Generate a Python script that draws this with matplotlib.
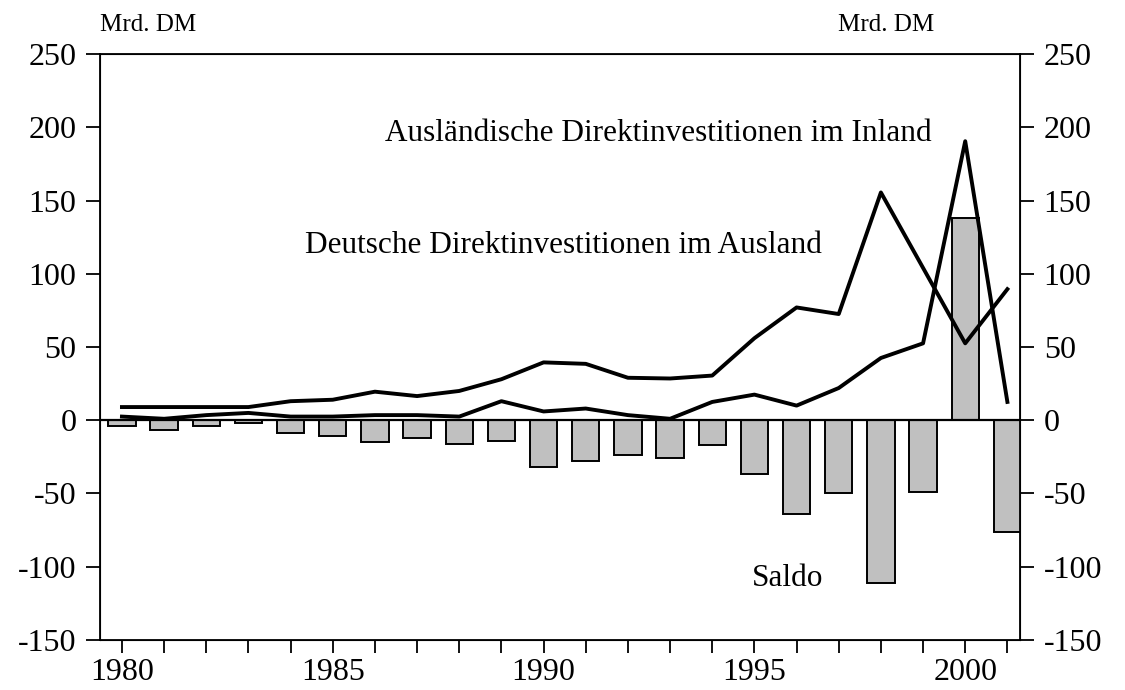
import matplotlib.pyplot as plt

plt.rcParams['font.family'] = ['Liberation Serif', 'DejaVu Serif']
plt.rcParams['axes.unicode_minus'] = False

years = list(range(1980, 2002))

# Deutsche Direktinvestitionen im Ausland (Mrd. DM)
outward = [9, 9, 9, 9, 13, 14, 19.5, 16.5, 20, 28, 39.5, 38.5, 29, 28.5, 30.5,
           56, 77, 72.5, 155.5, 104, 52.5, 89.5]
# Ausländische Direktinvestitionen im Inland (Mrd. DM)
inward = [2.5, 1, 3.5, 5, 2.5, 2.5, 3.5, 3.5, 2.5, 13, 6, 8, 3.5, 1, 12.5,
          17.5, 10, 22, 42.5, 52.5, 190.5, 12.5]
# Saldo
saldo = [-4, -6.5, -4, -2, -8.5, -10.5, -15, -12, -16, -14, -32, -28, -24, -26, -17,
         -37, -64, -50, -111, -49, 138, -76]

fig = plt.figure(figsize=(11.25, 6.9), dpi=100)
ax = fig.add_axes([0.0889, 0.0725, 0.8178, 0.8492])

ax.bar(years, saldo, width=0.65, color="#c0c0c0", edgecolor="black", linewidth=1.4, zorder=2)
ax.axhline(0, color="black", linewidth=1.6, zorder=3)
ax.plot(years, outward, color="black", linewidth=2.8, zorder=4)
ax.plot(years, inward, color="black", linewidth=2.8, zorder=4)

ax.set_xlim(1979.48, 2001.3)
ax.set_ylim(-150, 250)
ax.set_yticks(range(-150, 251, 50))
ax.set_xticks(years, minor=True)
ax.set_xticks([1980, 1985, 1990, 1995, 2000])
ax.tick_params(axis="y", direction="out", length=10, width=1.3, labelsize=23, pad=7)
ax.tick_params(axis="x", which="both", direction="out", length=9, width=1.3, labelsize=23, pad=4)
for s in ax.spines.values():
    s.set_linewidth(1.3)

ax2 = ax.twinx()
ax2.set_ylim(-150, 250)
ax2.set_yticks(range(-150, 251, 50))
ax2.tick_params(axis="y", direction="out", length=10, width=1.3, labelsize=23, pad=7)

ax.text(1986.24, 196, "Ausländische Direktinvestitionen im Inland", fontsize=22.5, va="center", ha="left")
ax.text(1984.34, 119, "Deutsche Direktinvestitionen im Ausland", fontsize=22.5, va="center", ha="left")
ax.text(1994.95, -108, "Saldo", fontsize=22.5, va="center", ha="left")

fig.text(100 / 1125, 1 - 25 / 690, "Mrd. DM", fontsize=18, va="center", ha="left")
fig.text(838 / 1125, 1 - 25 / 690, "Mrd. DM", fontsize=18, va="center", ha="left")

fig.savefig("out.png", dpi=100)
